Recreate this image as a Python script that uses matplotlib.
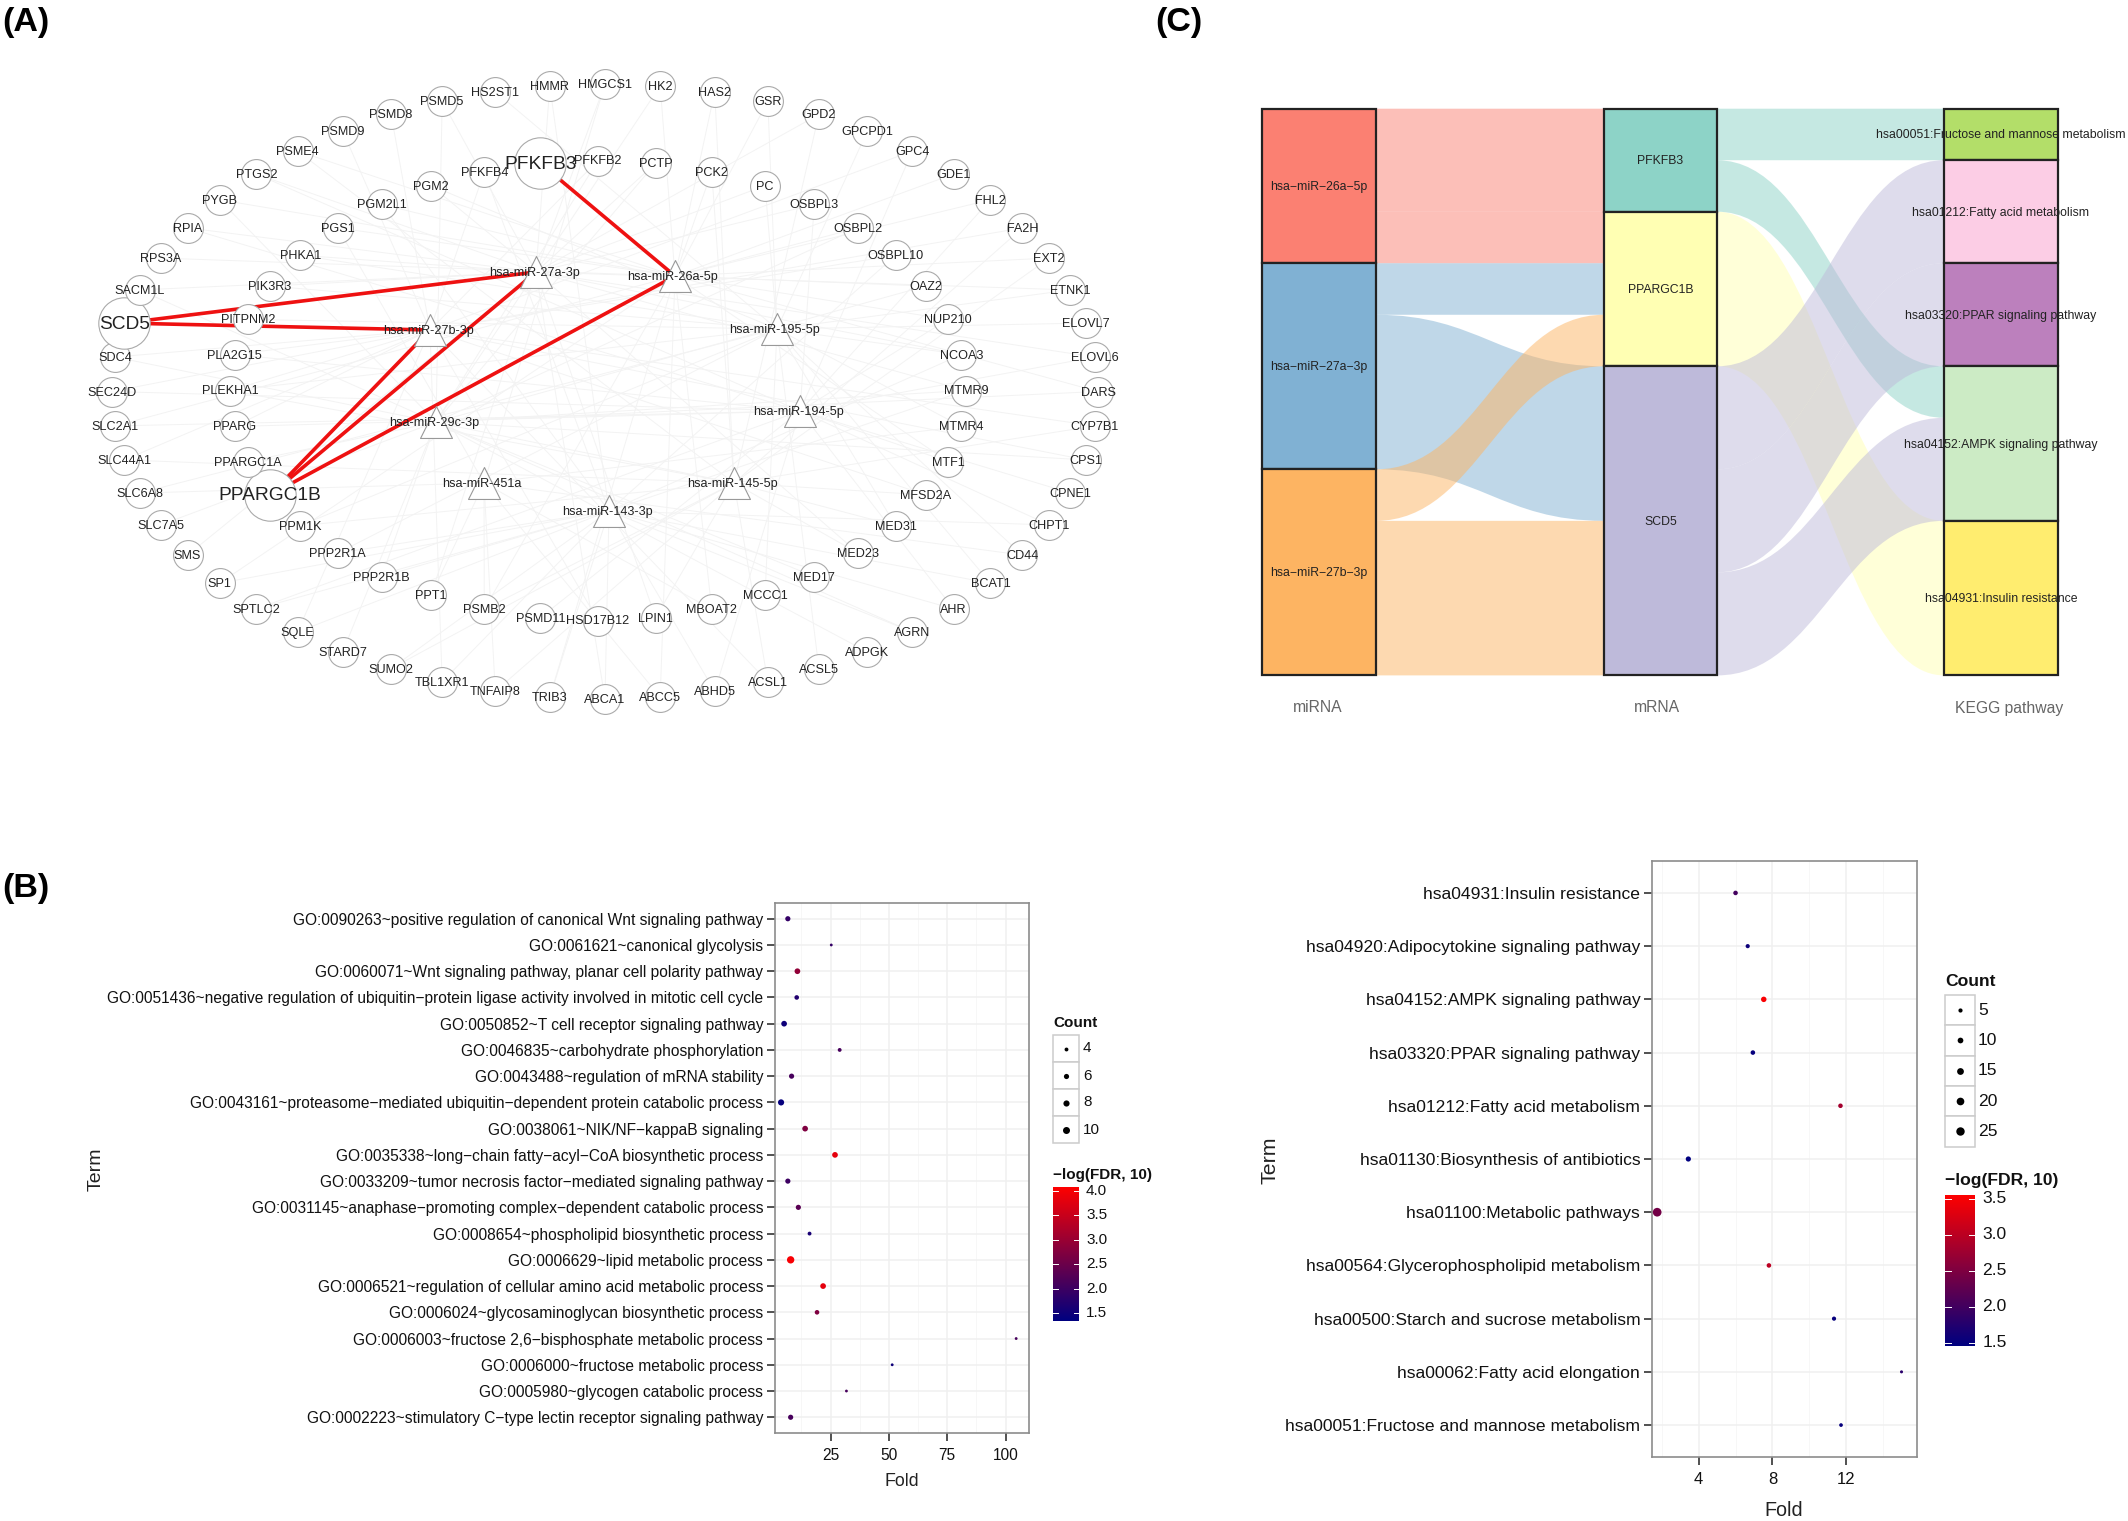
import numpy as np
import matplotlib
matplotlib.use('Agg')
import matplotlib.pyplot as plt
from matplotlib.colors import LinearSegmentedColormap
from matplotlib.patches import PathPatch, Rectangle
from matplotlib.path import Path

plt.rcParams['font.family'] = ['Liberation Sans', 'DejaVu Sans']

# ---- (A) network
outer_genes = ['HMGCS1', 'HK2', 'HAS2', 'GSR', 'GPD2', 'GPCPD1', 'GPC4', 'GDE1', 'FHL2', 'FA2H', 'EXT2', 'ETNK1',
               'ELOVL7', 'ELOVL6', 'DARS', 'CYP7B1', 'CPS1', 'CPNE1', 'CHPT1', 'CD44', 'BCAT1', 'AHR', 'AGRN', 'ADPGK',
               'ACSL5', 'ACSL1', 'ABHD5', 'ABCC5', 'ABCA1', 'TRIB3', 'TNFAIP8', 'TBL1XR1', 'SUMO2', 'STARD7', 'SQLE',
               'SPTLC2', 'SP1', 'SMS', 'SLC7A5', 'SLC6A8', 'SLC44A1', 'SLC2A1', 'SEC24D', 'SDC4', 'SCD5', 'SACM1L',
               'RPS3A', 'RPIA', 'PYGB', 'PTGS2', 'PSME4', 'PSMD9', 'PSMD8', 'PSMD5', 'HS2ST1', 'HMMR']
inner_genes = ['PFKFB2', 'PCTP', 'PCK2', 'PC', 'OSBPL3', 'OSBPL2', 'OSBPL10', 'OAZ2', 'NUP210', 'NCOA3', 'MTMR9',
               'MTMR4', 'MTF1', 'MFSD2A', 'MED31', 'MED23', 'MED17', 'MCCC1', 'MBOAT2', 'LPIN1', 'HSD17B12', 'PSMD11',
               'PSMB2', 'PPT1', 'PPP2R1B', 'PPP2R1A', 'PPM1K', 'PPARGC1B', 'PPARGC1A', 'PPARG', 'PLEKHA1', 'PLA2G15',
               'PITPNM2', 'PIK3R3', 'PHKA1', 'PGS1', 'PGM2L1', 'PGM2', 'PFKFB4', 'PFKFB3']
big_genes = ['SCD5', 'PFKFB3', 'PPARGC1B']
mirnas = ['hsa-miR-27a-3p', 'hsa-miR-26a-5p', 'hsa-miR-27b-3p', 'hsa-miR-195-5p', 'hsa-miR-194-5p',
          'hsa-miR-29c-3p', 'hsa-miR-145-5p', 'hsa-miR-451a', 'hsa-miR-143-3p']
mirna_x = [536, 675, 430, 777, 800, 436, 734, 484, 609]
mirna_y = [272, 276, 330, 329, 411, 422, 483, 483, 511]
red_edges = [('SCD5', 'hsa-miR-27a-3p'), ('SCD5', 'hsa-miR-27b-3p'), ('PFKFB3', 'hsa-miR-26a-5p'),
             ('PPARGC1B', 'hsa-miR-27a-3p'), ('PPARGC1B', 'hsa-miR-27b-3p'), ('PPARGC1B', 'hsa-miR-26a-5p')]
grey_edges = {
    'hsa-miR-27a-3p': ['HMMR', 'HMGCS1', 'PSMD5', 'PTGS2', 'RPIA', 'SACM1L', 'PCTP', 'PC', 'OSBPL3', 'ETNK1', 'GPD2',
                       'PGM2', 'PHKA1', 'PIK3R3', 'MTMR9', 'ELOVL6', 'ABCA1', 'LPIN1', 'PPT1', 'SMS', 'NCOA3', 'MED23'],
    'hsa-miR-26a-5p': ['HK2', 'HAS2', 'GSR', 'PSME4', 'PYGB', 'RPS3A', 'PGS1', 'PGM2L1', 'PCK2', 'FHL2', 'EXT2', 'GDE1',
                       'OSBPL2', 'OAZ2', 'NUP210', 'MTF1', 'MBOAT2', 'ABCC5', 'TRIB3', 'PSMB2', 'SP1', 'SLC2A1', 'DARS'],
    'hsa-miR-27b-3p': ['PSMD8', 'PSMD9', 'PFKFB4', 'PFKFB2', 'SDC4', 'SEC24D', 'PLA2G15', 'PLEKHA1', 'PPARG', 'SLC44A1',
                       'OSBPL10', 'CYP7B1', 'FA2H', 'GPC4', 'MFSD2A', 'CPS1', 'HSD17B12', 'TBL1XR1', 'SQLE', 'ACSL1'],
    'hsa-miR-195-5p': ['GPCPD1', 'GSR', 'ELOVL7', 'ETNK1', 'PGM2', 'PHKA1', 'PIK3R3', 'PITPNM2', 'MTMR4', 'MED31', 'CD44',
                       'BCAT1', 'MCCC1', 'PPM1K', 'PPP2R1A', 'SLC6A8', 'PLEKHA1', 'NCOA3', 'HS2ST1', 'ACSL5', 'PC'],
    'hsa-miR-194-5p': ['FHL2', 'GPC4', 'OSBPL3', 'PSMD11', 'ABHD5', 'CPNE1', 'CHPT1', 'AHR', 'PPARG', 'PLA2G15', 'SLC2A1',
                       'SEC24D', 'RPIA', 'MTF1', 'NUP210', 'SPTLC2', 'PTGS2', 'ELOVL6'],
    'hsa-miR-29c-3p': ['PSMD5', 'PFKFB2', 'PCTP', 'OSBPL2', 'MTMR9', 'DARS', 'CPS1', 'MED17', 'PPARGC1A', 'SLC7A5',
                       'STARD7', 'PPP2R1B', 'AGRN', 'ADPGK', 'SACM1L', 'PYGB', 'HK2', 'OAZ2'],
    'hsa-miR-145-5p': ['GPD2', 'HAS2', 'EXT2', 'CYP7B1', 'MED23', 'MED31', 'MFSD2A', 'LPIN1', 'SUMO2', 'PSMB2', 'PPM1K',
                       'SLC44A1', 'SDC4', 'PLEKHA1', 'PSME4', 'PCK2', 'ACSL1', 'TNFAIP8', 'FA2H'],
    'hsa-miR-451a': ['PPT1', 'PSMB2', 'ABCC5', 'TNFAIP8', 'MTMR4', 'PGS1', 'HMGCS1', 'SLC6A8', 'MBOAT2', 'CD44'],
    'hsa-miR-143-3p': ['ABCA1', 'ABHD5', 'TRIB3', 'TBL1XR1', 'SUMO2', 'SQLE', 'SPTLC2', 'SP1', 'BCAT1', 'AGRN', 'AHR',
                       'CHPT1', 'MTMR9', 'NCOA3', 'PPP2R1A', 'PPP2R1B', 'PGM2L1', 'PFKFB4', 'HMMR', 'OSBPL10'],
}

# ---- (B) GO terms
go_terms = ['GO:0090263~positive regulation of canonical Wnt signaling pathway',
            'GO:0061621~canonical glycolysis',
            'GO:0060071~Wnt signaling pathway, planar cell polarity pathway',
            'GO:0051436~negative regulation of ubiquitin\u2212protein ligase activity involved in mitotic cell cycle',
            'GO:0050852~T cell receptor signaling pathway',
            'GO:0046835~carbohydrate phosphorylation',
            'GO:0043488~regulation of mRNA stability',
            'GO:0043161~proteasome\u2212mediated ubiquitin\u2212dependent protein catabolic process',
            'GO:0038061~NIK/NF\u2212kappaB signaling',
            'GO:0035338~long\u2212chain fatty\u2212acyl\u2212CoA biosynthetic process',
            'GO:0033209~tumor necrosis factor\u2212mediated signaling pathway',
            'GO:0031145~anaphase\u2212promoting complex\u2212dependent catabolic process',
            'GO:0008654~phospholipid biosynthetic process',
            'GO:0006629~lipid metabolic process',
            'GO:0006521~regulation of cellular amino acid metabolic process',
            'GO:0006024~glycosaminoglycan biosynthetic process',
            'GO:0006003~fructose 2,6\u2212bisphosphate metabolic process',
            'GO:0006000~fructose metabolic process',
            'GO:0005980~glycogen catabolic process',
            'GO:0002223~stimulatory C\u2212type lectin receptor signaling pathway']
go_fold = [6.7, 25.3, 10.8, 10.5, 5.1, 28.9, 8.3, 3.8, 14.1, 26.9, 6.7, 11.2, 16.0, 7.9, 21.8, 19.2, 104.5, 51.4, 31.8, 7.9]
go_count = [6, 3, 7, 5, 7, 4, 6, 8, 7, 7, 6, 6, 4, 11, 7, 5, 3, 3, 3, 6]
go_logfdr = [1.9, 1.9, 2.9, 1.7, 1.5, 2.1, 2.1, 1.4, 2.7, 3.8, 2.0, 2.3, 1.6, 4.0, 3.8, 2.7, 2.1, 1.5, 2.1, 2.1]

# ---- KEGG dots
kegg_terms = ['hsa04931:Insulin resistance', 'hsa04920:Adipocytokine signaling pathway', 'hsa04152:AMPK signaling pathway',
              'hsa03320:PPAR signaling pathway', 'hsa01212:Fatty acid metabolism', 'hsa01130:Biosynthesis of antibiotics',
              'hsa01100:Metabolic pathways', 'hsa00564:Glycerophospholipid metabolism',
              'hsa00500:Starch and sucrose metabolism', 'hsa00062:Fatty acid elongation',
              'hsa00051:Fructose and mannose metabolism']
kegg_fold = [6.0, 6.66, 7.53, 6.94, 11.69, 3.44, 1.75, 7.81, 11.34, 15.0, 11.72]
kegg_count = [6, 5, 9, 6, 6, 8, 27, 6, 5, 3, 4]
kegg_logfdr = [2.0, 1.55, 3.5, 1.5, 2.8, 1.45, 2.4, 3.0, 1.5, 1.8, 1.5]

# ---- (C) sankey
mirna_col = ['hsa\u2212miR\u221226a\u22125p', 'hsa\u2212miR\u221227a\u22123p', 'hsa\u2212miR\u221227b\u22123p']
mrna_col = ['PFKFB3', 'PPARGC1B', 'SCD5']
path_col = ['hsa00051:Fructose and mannose metabolism', 'hsa01212:Fatty acid metabolism', 'hsa03320:PPAR signaling pathway',
            'hsa04152:AMPK signaling pathway', 'hsa04931:Insulin resistance']
left_src = [0, 0, 1, 1, 2, 2]
left_dst = [0, 1, 1, 2, 1, 2]
left_n = [2, 1, 1, 3, 1, 3]
right_src = [0, 0, 1, 2, 2, 2]
right_dst = [0, 3, 4, 1, 2, 3]
right_n = [1, 1, 3, 2, 2, 2]
mirna_colors = ['#FB8072', '#80B1D3', '#FDB462']
mrna_colors = ['#8DD3C7', '#FFFFB3', '#BEBADA']
path_colors = ['#B3DE69', '#FCCDE5', '#BC80BD', '#CCEBC5', '#FFED6F']

W, H = 2128, 1521
fig = plt.figure(figsize=(W / 100, H / 100), dpi=100, facecolor='white')
bg = fig.add_axes([0, 0, 1, 1])
bg.set_xlim(0, W)
bg.set_ylim(H, 0)
bg.axis('off')

for label, x, y in [('(A)', 2, 22), ('(B)', 2, 888), ('(C)', 1155, 22)]:
    bg.text(x, y, label, fontsize=24.5, fontweight='bold', ha='left', va='center', color='black')

# network layout: two ellipses plus the miRNA triangles
pos = {}
for i, g in enumerate(outer_genes):
    a = 2 * np.pi * i / len(outer_genes)
    pos[g] = (605 + 493 * np.sin(a), 391.5 - 307.5 * np.cos(a))
for i, g in enumerate(inner_genes):
    a = 2 * np.pi * i / len(inner_genes)
    pos[g] = (598 + 368 * np.sin(a), 390.5 - 230 * np.cos(a))
for m, x, y in zip(mirnas, mirna_x, mirna_y):
    pos[m] = (x, y)

for m, genes in grey_edges.items():
    for g in genes:
        bg.plot([pos[m][0], pos[g][0]], [pos[m][1], pos[g][1]], color='#f3f3f3', lw=0.7, zorder=1)
for g, m in red_edges:
    bg.plot([pos[g][0], pos[m][0]], [pos[g][1], pos[m][1]], color='#ee1111', lw=2.6, zorder=2, solid_capstyle='butt')

for g in outer_genes + inner_genes:
    big = g in big_genes
    d = 37 if big else 21.5
    bg.scatter(*pos[g], s=d ** 2, marker='o', facecolor='white', edgecolor='#aaaaaa', linewidth=0.8, zorder=3)
    bg.text(pos[g][0], pos[g][1] + 1, g, fontsize=13.8 if big else 9.1, ha='center', va='center', color='#222222', zorder=5)
for m in mirnas:
    bg.scatter(*pos[m], s=23 ** 2, marker='^', facecolor='white', edgecolor='#999999', linewidth=0.8, zorder=3)
    bg.text(pos[m][0] - 2, pos[m][1] + 1, m, fontsize=9.1, ha='center', va='center', color='#222222', zorder=5)

# sankey
col_x = [(1262, 1376), (1604, 1717), (1944, 2058)]
top, unit = 108.7, (675.4 - 108.7) / 11


def stack_tops(sizes):
    return top + unit * np.concatenate([[0], np.cumsum(sizes)[:-1]])


def ribbons(src, dst, n, tops_a, tops_b, x0, x1, colors):
    off_a = dict(enumerate(tops_a))
    off_b = dict(enumerate(tops_b))
    c = (x1 - x0) * 0.45
    for s, d, k in zip(src, dst, n):
        y0, y1 = off_a[s], off_b[d]
        h = k * unit
        verts = [(x0, y0), (x0 + c, y0), (x1 - c, y1), (x1, y1), (x1, y1 + h),
                 (x1 - c, y1 + h), (x0 + c, y0 + h), (x0, y0 + h), (x0, y0)]
        codes = [Path.MOVETO, Path.CURVE4, Path.CURVE4, Path.CURVE4, Path.LINETO,
                 Path.CURVE4, Path.CURVE4, Path.CURVE4, Path.CLOSEPOLY]
        bg.add_patch(PathPatch(Path(verts, codes), facecolor=colors[s], edgecolor='none', alpha=0.5, zorder=2))
        off_a[s] += h
        off_b[d] += h


mirna_n = [sum(k for s, k in zip(left_src, left_n) if s == i) for i in range(3)]
mrna_n = [sum(k for s, k in zip(right_src, right_n) if s == i) for i in range(3)]
path_n = [sum(k for d, k in zip(right_dst, right_n) if d == i) for i in range(5)]
ribbons(left_src, left_dst, left_n, stack_tops(mirna_n), stack_tops(mrna_n), col_x[0][1], col_x[1][0], mirna_colors)
ribbons(right_src, right_dst, right_n, stack_tops(mrna_n), stack_tops(path_n), col_x[1][1], col_x[2][0], mrna_colors)

for (x0, x1), names, sizes, colors in zip(col_x, [mirna_col, mrna_col, path_col], [mirna_n, mrna_n, path_n],
                                          [mirna_colors, mrna_colors, path_colors]):
    for name, k, t, c in zip(names, sizes, stack_tops(sizes), colors):
        bg.add_patch(Rectangle((x0, t), x1 - x0, k * unit, facecolor=c, edgecolor='#222222', lw=1.6, zorder=3))
        bg.text((x0 + x1) / 2, t + k * unit / 2 + 1, name, fontsize=8.8, ha='center', va='center', color='#222222', zorder=5)
for label, x in [('miRNA', 1318), ('mRNA', 1657), ('KEGG pathway', 2009)]:
    bg.text(x, 708, label, fontsize=11.3, ha='center', va='center', color='#666666')

cmap = LinearSegmentedColormap.from_list('fdr', ['#000080', '#FF0000'])


def dot_size(count, base, k):
    # diameter in px -> scatter area in pt^2
    return ((base + k * np.sqrt(np.asarray(count, dtype=float) - 2.4)) * 0.72) ** 2


def dot_panel(box, terms, fold, count, logfdr, xlim, xticks, xminor, vmin, vmax, base, k, tick_fs, lab_fs, label_fs, term_fs, term_xy, fold_xy):
    x0, y0, x1, y1 = box
    ax = fig.add_axes([x0 / W, 1 - y1 / H, (x1 - x0) / W, (y1 - y0) / H])
    rows = np.arange(len(terms))[::-1]
    ax.set_xlim(*xlim)
    ax.set_ylim(-0.6, len(terms) - 0.4)
    ax.set_xticks(xticks)
    ax.set_xticks(xminor, minor=True)
    ax.set_yticks(rows)
    ax.set_yticklabels(terms, fontsize=lab_fs, color='#111111')
    ax.tick_params(axis='x', labelsize=tick_fs, labelcolor='#111111', length=5.5, width=1.1, pad=5, color='#222222')
    ax.tick_params(axis='y', length=5.5, width=1.1, pad=3, color='#222222')
    ax.tick_params(which='minor', length=0)
    ax.grid(True, which='major', color='#f0f0f0', lw=1.1)
    ax.grid(True, which='minor', axis='x', color='#f7f7f7', lw=0.7)
    ax.set_axisbelow(True)
    for s in ax.spines.values():
        s.set_color('#8c8c8c')
        s.set_linewidth(1.2)
    ax.scatter(fold, rows, s=dot_size(count, base, k), c=logfdr, cmap=cmap, vmin=vmin, vmax=vmax, linewidths=0, zorder=3, clip_on=False)
    bg.text(term_xy[0], term_xy[1], 'Term', rotation=90, fontsize=term_fs, ha='center', va='center', color='#222222')
    bg.text(fold_xy[0], fold_xy[1], 'Fold', fontsize=label_fs, ha='center', va='center', color='#222222')
    return ax


def legends(x0, x1, count_y, key_h, counts, base, k, cb_top, cb_bot, cb_hi, cb_lo, cb_ticks, vmin, vmax, fs, title_gap, lab_gap, cb_lab_gap):
    bg.text(x0, count_y - title_gap, 'Count', fontsize=fs, fontweight='bold', ha='left', va='center', color='#111111')
    for i, c in enumerate(counts):
        y = count_y + i * key_h
        bg.add_patch(Rectangle((x0, y), x1 - x0, key_h, facecolor='white', edgecolor='#cccccc', lw=1.1))
        bg.scatter((x0 + x1) / 2, y + key_h / 2, s=dot_size(c, base, k), color='black', linewidths=0, zorder=3)
        bg.text(x1 + lab_gap, y + key_h / 2, str(c), fontsize=fs, ha='left', va='center', color='#111111')
    bg.text(x0, cb_top - title_gap, '\u2212log(FDR, 10)', fontsize=fs, fontweight='bold', ha='left', va='center', color='#111111')
    cax = fig.add_axes([x0 / W, 1 - cb_bot / H, (x1 - x0) / W, (cb_bot - cb_top) / H])
    grad = np.linspace(cb_hi, cb_lo, 200).reshape(-1, 1)
    cax.imshow(grad, cmap=cmap, vmin=vmin, vmax=vmax, aspect='auto', extent=[0, 1, cb_lo, cb_hi])
    cax.set_xticks([])
    cax.set_yticks([])
    for s in cax.spines.values():
        s.set_visible(False)
    for t in cb_ticks:
        cax.plot([0, 0.2], [t, t], color='white', lw=0.7)
        cax.plot([0.8, 1], [t, t], color='white', lw=0.7)
        y = cb_top + (cb_hi - t) / (cb_hi - cb_lo) * (cb_bot - cb_top)
        bg.text(x1 + cb_lab_gap, y, f'{t:.1f}', fontsize=fs, ha='left', va='center', color='#111111')


# panel (B)
dot_panel((775, 903, 1029, 1433), go_terms, go_fold, go_count, go_logfdr, (1.2, 110), [25, 50, 75, 100],
          [12.5, 37.5, 62.5, 87.5], 1.34, 4.08, 1.2, 2.1, 11.2, 11.2, 12.8, 14, (96, 1169), (902, 1481))
legends(1053, 1079, 1035, 27, [4, 6, 8, 10], 1.2, 2.1, 1186.6, 1321, 4.08, 1.34, [4.0, 3.5, 3.0, 2.5, 2.0, 1.5],
        1.34, 4.08, 11, 12, 4, 7)

# lower right KEGG panel
dot_panel((1652, 861, 1917, 1457), kegg_terms, kegg_fold, kegg_count, kegg_logfdr, (1.47, 15.84), [4, 8, 12],
          [2, 6, 10, 14], 1.45, 3.55, 2.0, 1.35, 12, 12.6, 14.2, 15.4, (1270, 1160), (1784, 1511))
legends(1945, 1975, 995, 30.3, [5, 10, 15, 20, 25], 2.0, 1.35, 1195, 1346.5, 3.55, 1.45, [3.5, 3.0, 2.5, 2.0, 1.5],
        1.45, 3.55, 12.6, 14, 3, 7.5)

fig.savefig('out.png', dpi=100, facecolor='white')
